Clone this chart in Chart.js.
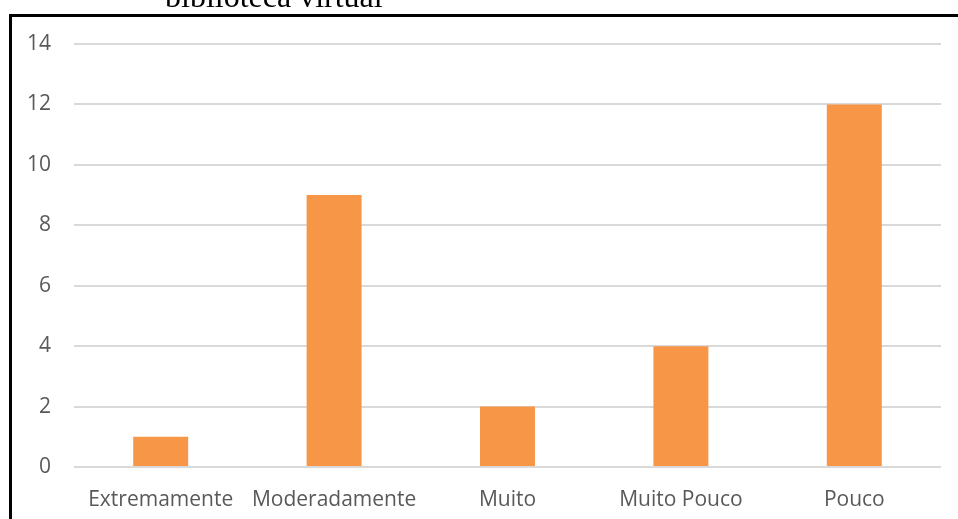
<!DOCTYPE html>
<html>
<head>
<meta charset="utf-8">
<script src="https://cdn.jsdelivr.net/npm/chart.js@4/dist/chart.umd.min.js"></script>
<style>
    html, body { margin: 0; padding: 0; background: #fff; }
    #wrap { position: relative; width: 958px; height: 519px; overflow: hidden; }
    #frame {
        position: absolute; left: 9px; top: 14px; right: 0; bottom: -10px;
        border-left: 3px solid #000; border-top: 3px solid #000;
    }
    #chart { position: absolute; left: 0; top: 0; }
</style>
</head>
<body>
<div id="wrap">
    <div id="frame"></div>
    <canvas id="chart" width="958" height="519"></canvas>
</div>
<script>
// respostas por categoria
const categorias = ['Extremamente', 'Moderadamente', 'Muito', 'Muito Pouco', 'Pouco'];
const respostas = [1, 9, 2, 4, 12];
const tituloCortado = 'biblioteca virtual';

const corBarra = '#F79646';
const corTexto = '#595959';
const corGrade = '#d9d9d9';

// linha do título que fica acima da moldura
const tituloPlugin = {
    id: 'tituloCortado',
    afterDraw(chart) {
        const ctx = chart.ctx;
        ctx.save();
        ctx.font = '32px "Liberation Serif", "Times New Roman", serif';
        ctx.fillStyle = '#000';
        ctx.textBaseline = 'alphabetic';
        ctx.textAlign = 'left';
        ctx.fillText(tituloCortado, 165, 7);
        ctx.restore();
    }
};

const ctx = document.getElementById('chart').getContext('2d');
new Chart(ctx, {
    type: 'bar',
    data: {
        labels: categorias,
        datasets: [{
            data: respostas,
            backgroundColor: corBarra,
            borderWidth: 0,
            barPercentage: 0.317,
            categoryPercentage: 1
        }]
    },
    options: {
        responsive: false,
        animation: false,
        layout: { padding: { top: 44, right: 17, left: 0, bottom: 0 } },
        plugins: {
            legend: { display: false },
            tooltip: { enabled: false }
        },
        scales: {
            x: {
                grid: { display: false },
                border: { display: false },
                ticks: {
                    color: corTexto,
                    font: { family: '"Open Sans", sans-serif', size: 21 },
                    padding: 12,
                    maxRotation: 0,
                    autoSkip: false
                },
                afterFit: (s) => { s.height = 52; }
            },
            y: {
                min: 0,
                max: 14,
                ticks: {
                    stepSize: 2,
                    color: corTexto,
                    font: { family: '"Open Sans", sans-serif', size: 21 },
                    padding: 23
                },
                grid: { color: corGrade, lineWidth: 2, drawTicks: false },
                border: { display: false },
                afterFit: (s) => { s.width = 74; }
            }
        }
    },
    plugins: [tituloPlugin]
});
</script>
</body>
</html>
